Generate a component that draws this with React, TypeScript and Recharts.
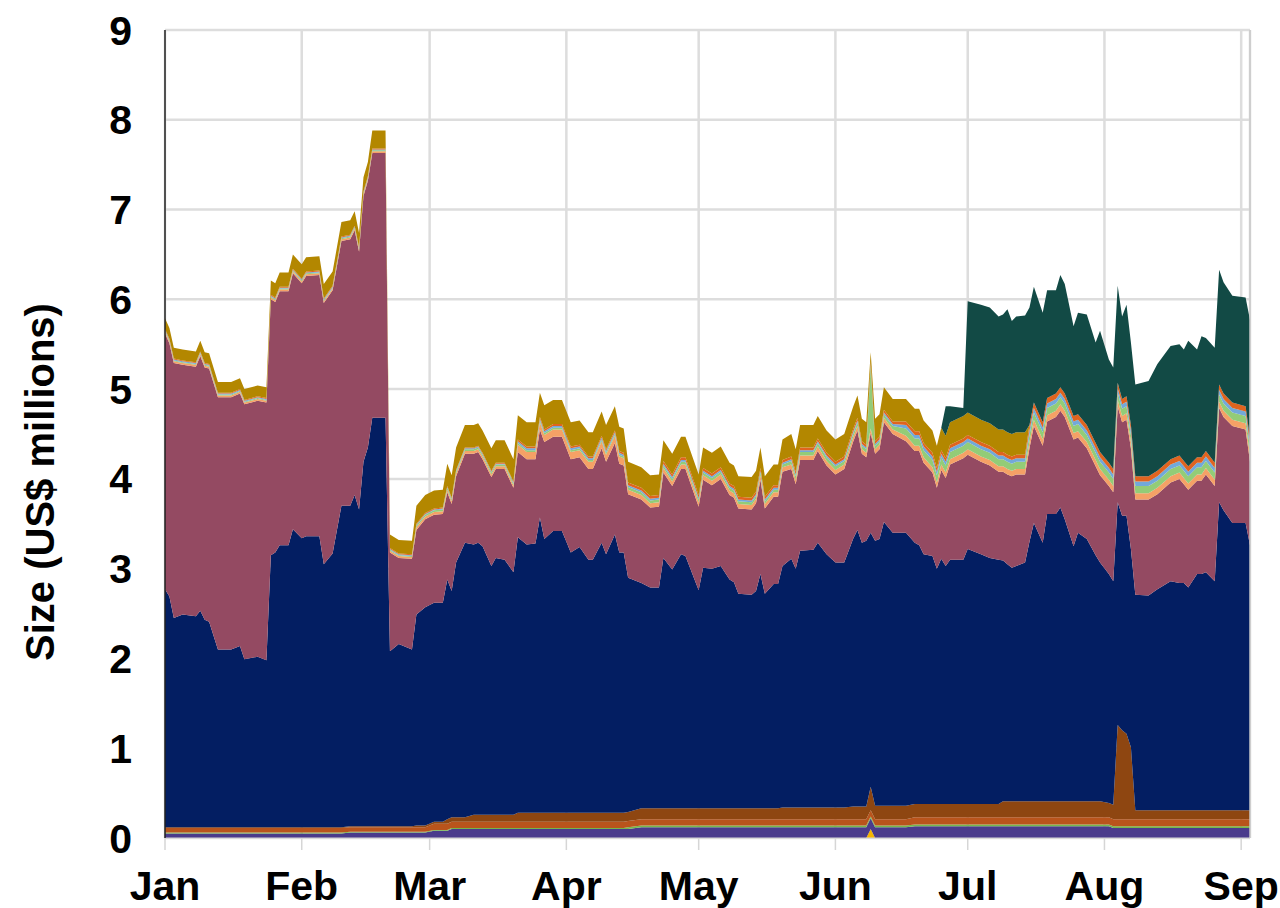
import { Area, AreaChart, CartesianGrid, Label, ReferenceLine, XAxis, YAxis } from 'recharts'

document.body.style.margin = '0'

const font = '"Liberation Sans", Arial, Helvetica, sans-serif'

// day of year (0 = 1 Jan), x axis
const days = [
  0, 1, 2, 4, 7, 8, 9, 10, 12, 15, 17, 18, 21, 23,
  24, 25, 26, 28, 29, 31, 32, 35, 36, 38, 40,
  42, 43, 44, 45, 46, 47, 50,
  51, 53, 56,
  57, 59, 61, 63,
  64, 65, 66, 68, 70, 71, 72, 74, 75, 77, 79,
  80, 82, 84, 85, 86, 88, 90, 92, 94, 96, 97, 99, 100, 102, 103, 104,
  105, 108, 110, 112, 113, 115, 117, 118, 121, 122, 124, 126, 128, 129, 130, 133, 134, 135, 136, 138, 139, 140,
  142, 143, 144, 147, 148, 150, 152, 154, 156, 157, 158, 159, 160, 161, 162, 163, 165,
  168, 170, 171, 172, 174, 175, 176, 177,
  178, 181, 182, 185, 187, 189, 190, 191, 192, 193, 195,
  196, 197, 199, 200, 202, 203, 204, 206, 207, 209, 211, 212, 214, 215,
  216, 217, 218, 219, 220, 223, 225, 228, 230, 231, 232, 234, 235, 236, 238,
  239, 240, 242, 245, 246,
]
const monthTicks = [0, 31, 60, 91, 121, 152, 182, 213, 244]
const monthLabels = ['Jan', 'Feb', 'Mar', 'Apr', 'May', 'Jun', 'Jul', 'Aug', 'Sep']
const yTicks = [0, 1, 2, 3, 4, 5, 6, 7, 8, 9]

// one-day spike at the very bottom
const yellowSpike: Record<number, number> = { 160: 0.1 }

const purple = [
  .05, .05, .05, .05, .05, .05, .05, .05, .05, .05, .05, .05, .05, .05,
  .05, .05, .05, .05, .05, .05, .05, .05, .05, .05, .05,
  .06, .06, .06, .06, .06, .06, .06,
  .06, .06, .06,
  .06, .06, .08, .08,
  .08, .10, .10, .10, .10, .10, .10, .10, .10, .10, .10,
  .10, .10, .10, .10, .10, .10, .10, .10, .10, .10, .10, .10, .10, .10, .10, .10,
  .10, .12, .12, .12, .12, .12, .12, .12, .12, .12, .12, .12, .12, .12, .12, .12, .12, .12, .12, .12, .12, .12,
  .12, .12, .12, .12, .12, .12, .12, .12, .12, .12, .12, .12, .12, .12, .12, .12, .12,
  .12, .13, .13, .13, .13, .13, .13, .13,
  .13, .13, .13, .13, .13, .13, .13, .13, .13, .13, .13,
  .13, .13, .13, .13, .13, .13, .13, .13, .13, .13, .13, .13, .13, .11,
  .11, .11, .11, .11, .11, .11, .11, .11, .11, .11, .11, .11, .11, .11, .11,
  .11, .11, .11, .11, .11,
]
const green = [
  .01, .01, .01, .01, .01, .01, .01, .01, .01, .01, .01, .01, .01, .01,
  .01, .01, .01, .01, .01, .01, .01, .01, .01, .01, .01,
  .01, .01, .01, .01, .01, .01, .01,
  .01, .01, .01,
  .01, .01, .01, .01,
  .01, .01, .01, .01, .01, .01, .01, .01, .01, .01, .01,
  .01, .01, .01, .01, .01, .01, .01, .01, .01, .01, .01, .01, .01, .01, .01, .01,
  .02, .02, .02, .02, .02, .02, .02, .02, .02, .02, .02, .02, .02, .02, .02, .02, .02, .02, .02, .02, .02, .02,
  .02, .02, .02, .02, .02, .02, .02, .02, .02, .02, .02, .02, .02, .02, .02, .02, .02,
  .02, .02, .02, .02, .02, .02, .02, .02,
  .02, .02, .02, .02, .02, .02, .02, .02, .02, .02, .02,
  .02, .02, .02, .02, .02, .02, .02, .02, .02, .02, .02, .02, .02, .02,
  .02, .02, .02, .02, .02, .02, .02, .02, .02, .02, .02, .02, .02, .02, .02,
  .02, .02, .02, .02, .02,
]
const rust = [
  .05, .05, .05, .05, .05, .05, .05, .05, .05, .05, .05, .05, .05, .05,
  .05, .05, .05, .05, .05, .05, .05, .05, .05, .05, .05,
  .05, .05, .05, .05, .05, .05, .05,
  .05, .05, .05,
  .05, .05, .07, .07,
  .07, .07, .07, .07, .07, .07, .07, .07, .07, .07, .07,
  .07, .07, .07, .07, .07, .07, .07, .07, .07, .07, .07, .07, .07, .07, .07, .07,
  .07, .07, .07, .07, .07, .07, .07, .07, .07, .07, .07, .07, .07, .07, .07, .07, .07, .07, .07, .07, .07, .07,
  .07, .07, .07, .07, .07, .07, .07, .07, .07, .07, .07, .07, .07, .07, .07, .07, .07,
  .07, .08, .08, .08, .08, .08, .08, .08,
  .08, .08, .08, .08, .08, .08, .08, .08, .08, .08, .08,
  .08, .08, .08, .08, .08, .08, .08, .08, .08, .08, .08, .08, .08, .08,
  .08, .08, .08, .08, .08, .08, .08, .08, .08, .08, .08, .08, .08, .08, .08,
  .08, .08, .08, .08, .08,
]
const brown = [
  .01, .01, .01, .01, .01, .01, .01, .01, .01, .01, .01, .01, .01, .01,
  .01, .01, .01, .01, .01, .01, .01, .01, .01, .01, .01,
  .01, .01, .01, .01, .01, .01, .01,
  .01, .01, .01,
  .02, .02, .02, .02,
  .05, .05, .05, .05, .08, .08, .08, .08, .08, .08, .08,
  .10, .10, .10, .10, .10, .10, .10, .10, .10, .10, .10, .10, .10, .10, .10, .10,
  .10, .12, .12, .12, .12, .12, .12, .12, .12, .12, .12, .12, .12, .12, .12, .12, .12, .12, .12, .12, .12, .13,
  .13, .13, .13, .13, .13, .13, .13, .13, .14, .14, .14, .14, .26, .15, .15, .15, .15,
  .15, .15, .15, .15, .15, .15, .15, .15,
  .15, .15, .15, .15, .15, .15, .18, .18, .18, .18, .18,
  .18, .18, .18, .18, .18, .18, .18, .18, .18, .18, .18, .18, .16, .16,
  1.05, .99, .95, .80, .10, .10, .10, .10, .10, .10, .10, .10, .10, .10, .10,
  .10, .10, .10, .10, .10,
]
const navy = [
  2.65, 2.57, 2.33, 2.37, 2.35, 2.41, 2.31, 2.29, 1.98, 1.98, 2.02, 1.87, 1.90, 1.86,
  3.03, 3.06, 3.14, 3.14, 3.32, 3.22, 3.24, 3.24, 2.93, 3.05, 3.58,
  3.57, 3.69, 3.53, 4.06, 4.22, 4.55, 4.55,
  1.95, 2.03, 1.97,
  2.35, 2.43, 2.44, 2.44,
  2.67, 2.52, 2.84, 3.06, 3.01, 3.03, 2.99, 2.77, 2.86, 2.84, 2.70,
  3.07, 2.99, 3.00, 3.29, 3.05, 3.14, 3.14, 2.90, 2.96, 2.82, 2.82, 3.01, 2.88, 3.10, 2.90, 2.90,
  2.61, 2.51, 2.46, 2.46, 2.79, 2.66, 2.83, 2.81, 2.43, 2.68, 2.67, 2.70, 2.55, 2.52, 2.39, 2.38, 2.42, 2.61, 2.39, 2.50, 2.50, 2.69,
  2.77, 2.66, 2.86, 2.87, 2.95, 2.82, 2.73, 2.73, 2.98, 3.08, 2.94, 2.96, 2.83, 2.95, 2.97, 3.16, 3.04,
  3.04, 2.91, 2.88, 2.78, 2.76, 2.62, 2.73, 2.65,
  2.72, 2.72, 2.84, 2.78, 2.74, 2.72, 2.68, 2.64, 2.60, 2.62, 2.66,
  2.89, 3.10, 2.88, 3.20, 3.20, 3.27, 3.14, 2.84, 2.99, 2.92, 2.74, 2.66, 2.55, 2.49,
  2.48, 2.39, 2.43, 2.21, 2.40, 2.39, 2.46, 2.55, 2.53, 2.53, 2.48, 2.63, 2.63, 2.65, 2.55,
  3.43, 3.34, 3.20, 3.20, 2.95,
]
const mauve = [
  2.85, 2.82, 2.84, 2.78, 2.78, 2.84, 2.81, 2.82, 2.81, 2.81, 2.81, 2.84, 2.85, 2.87,
  2.85, 2.79, 2.83, 2.83, 2.85, 2.84, 2.90, 2.91, 2.91, 2.93, 2.95,
  2.97, 2.95, 2.87, 2.96, 2.97, 2.95, 2.95,
  1.10, 0.96, 1.01,
  0.94, 0.98, 0.98, 0.99,
  0.97, 0.97, 0.96, 0.99, 1.01, 1.01, 0.97, 0.99, 0.99, 1.01, 0.94,
  0.95, 0.95, 0.94, 0.98, 1.08, 1.05, 1.05, 1.04, 1.00, 1.01, 1.01, 1.05, 1.03, 1.02, 0.99, 0.97,
  0.93, 0.93, 0.89, 0.90, 0.95, 0.93, 0.95, 0.97, 0.93, 0.98, 0.93, 0.97, 0.94, 0.94, 0.95, 0.95, 0.98, 1.05, 0.95, 0.97, 0.97, 1.05,
  1.00, 0.94, 1.01, 1.00, 1.02, 0.99, 0.98, 1.04, 1.08, 1.11, 0.99, 0.93, 1.11, 0.97, 1.00, 1.11, 1.10,
  1.02, 1.02, 1.05, 1.02, 0.93, 0.90, 0.99, 0.98,
  1.06, 1.13, 1.05, 1.03, 1.03, 0.98, 0.99, 1.00, 1.02, 1.02, 0.98,
  1.04, 1.08, 1.08, 1.03, 1.08, 1.08, 1.14, 1.19, 1.06, 1.01, 0.99, 0.97, 0.98, 0.99,
  1.07, 1.04, 1.07, 1.12, 1.06, 1.07, 1.06, 1.10, 1.16, 1.10, 1.09, 1.04, 1.04, 1.09, 1.06,
  1.05, 1.04, 1.08, 1.04, 0.93,
]
const peach = [
  .02, .02, .02, .02, .02, .02, .02, .02, .02, .02, .02, .02, .02, .02,
  .02, .02, .02, .02, .02, .02, .02, .02, .02, .02, .02,
  .02, .02, .02, .02, .02, .02, .02,
  .02, .02, .02,
  .03, .03, .03, .03,
  .03, .03, .03, .03, .03, .03, .03, .03, .03, .03, .03,
  .08, .08, .08, .08, .08, .08, .08, .08, .08, .08, .08, .08, .08, .08, .08, .08,
  .05, .05, .05, .05, .05, .05, .05, .05, .05, .05, .05, .05, .05, .05, .05, .05, .05, .05, .05, .05, .05, .05,
  .05, .05, .05, .05, .05, .05, .05, .05, .05, .05, .05, .05, .05, .05, .05, .05, .05,
  .06, .06, .06, .06, .06, .06, .06, .06,
  .06, .06, .06, .06, .06, .06, .06, .06, .06, .06, .06,
  .07, .07, .07, .07, .07, .07, .07, .07, .07, .07, .07, .07, .07, .07,
  .07, .07, .07, .07, .07, .07, .07, .07, .07, .07, .07, .07, .07, .07, .07,
  .07, .07, .07, .07, .07,
]
const lightGreen = [
  .01, .01, .01, .01, .01, .01, .01, .01, .01, .01, .01, .01, .01, .01,
  .01, .01, .01, .01, .01, .01, .01, .01, .01, .01, .01,
  .01, .01, .01, .01, .01, .01, .01,
  .01, .01, .01,
  .02, .02, .02, .02,
  .02, .02, .02, .02, .02, .02, .02, .02, .02, .02, .02,
  .02, .02, .02, .02, .02, .02, .02, .02, .02, .02, .02, .02, .02, .02, .02, .02,
  .03, .03, .03, .03, .03, .03, .03, .03, .03, .03, .03, .03, .03, .03, .03, .03, .03, .03, .03, .03, .03, .03,
  .04, .04, .04, .04, .04, .04, .04, .04, .04, .04, .04, .04, .70, .04, .04, .04, .04,
  .08, .08, .08, .08, .08, .08, .08, .08,
  .08, .08, .08, .08, .08, .08, .08, .08, .08, .08, .08,
  .08, .08, .08, .08, .08, .08, .08, .08, .08, .08, .08, .08, .08, .08,
  .08, .08, .08, .08, .08, .08, .08, .08, .08, .08, .08, .08, .08, .08, .08,
  .08, .08, .08, .08, .08,
]
const skyBlue = [
  .01, .01, .01, .01, .01, .01, .01, .01, .01, .01, .01, .01, .01, .01,
  .01, .01, .01, .01, .01, .01, .01, .01, .01, .01, .01,
  .01, .01, .01, .01, .01, .01, .01,
  .01, .01, .01,
  .01, .01, .01, .01,
  .01, .01, .01, .01, .01, .01, .01, .01, .01, .01, .01,
  .02, .02, .02, .02, .02, .02, .02, .02, .02, .02, .02, .02, .02, .02, .02, .02,
  .02, .02, .02, .02, .02, .02, .02, .02, .02, .02, .02, .02, .02, .02, .02, .02, .02, .02, .02, .02, .02, .02,
  .02, .02, .02, .02, .02, .02, .02, .02, .02, .02, .02, .02, .02, .02, .02, .02, .02,
  .04, .04, .04, .04, .04, .04, .04, .04,
  .04, .04, .04, .04, .04, .04, .04, .04, .04, .04, .04,
  .05, .05, .05, .05, .05, .05, .05, .05, .05, .05, .05, .05, .05, .05,
  .05, .05, .05, .05, .05, .05, .05, .05, .05, .05, .05, .05, .05, .05, .05,
  .05, .05, .05, .05, .05,
]
const orange = [
  .01, .01, .01, .01, .01, .01, .01, .01, .01, .01, .01, .01, .01, .01,
  .01, .01, .01, .01, .01, .01, .01, .01, .01, .01, .01,
  .01, .01, .01, .01, .01, .01, .01,
  .01, .01, .01,
  .01, .01, .01, .01,
  .01, .01, .01, .01, .01, .01, .01, .01, .01, .01, .01,
  .02, .02, .02, .02, .02, .02, .02, .02, .02, .02, .02, .02, .02, .02, .02, .02,
  .03, .03, .03, .03, .03, .03, .03, .03, .03, .03, .03, .03, .03, .03, .03, .03, .03, .03, .03, .03, .03, .03,
  .03, .03, .03, .03, .03, .03, .03, .03, .03, .03, .03, .03, .03, .03, .03, .03, .03,
  .04, .04, .04, .04, .04, .04, .04, .04,
  .04, .04, .04, .04, .04, .04, .04, .04, .04, .04, .04,
  .06, .06, .06, .06, .06, .06, .06, .06, .06, .06, .06, .06, .06, .06,
  .06, .06, .06, .06, .06, .06, .06, .06, .06, .06, .06, .06, .06, .06, .06,
  .06, .06, .06, .06, .06,
]
const gold = [
  .12, .12, .12, .12, .12, .12, .12, .12, .12, .12, .12, .12, .12, .12,
  .16, .16, .16, .16, .16, .16, .16, .16, .16, .16, .16,
  .16, .16, .16, .16, .16, .20, .20,
  .15, .15, .15,
  .20, .20, .20, .20,
  .25, .25, .25, .25, .25, .25, .25, .25, .25, .25, .25,
  .27, .27, .27, .27, .27, .27, .27, .27, .27, .27, .27, .27, .27, .27, .27, .27,
  .23, .23, .23, .23, .23, .23, .23, .23, .23, .23, .23, .23, .23, .23, .23, .23, .23, .23, .23, .23, .23, .23,
  .25, .25, .25, .25, .25, .25, .25, .25, .25, .25, .25, .25, .10, .25, .25, .25, .25,
  .25, .25, .25, .25, .25, .25, .25, .25,
  .25, .25, .25, .25, .25, .25, .25, .25, .25, .25, .25,
  0, 0, 0, 0, 0, 0, 0, 0, 0, 0, 0, 0, 0, 0,
  0, 0, 0, 0, 0, 0, 0, 0, 0, 0, 0, 0, 0, 0, 0,
  0, 0, 0, 0, 0,
]
const teal = [
  0, 0, 0, 0, 0, 0, 0, 0, 0, 0, 0, 0, 0, 0,
  0, 0, 0, 0, 0, 0, 0, 0, 0, 0, 0,
  0, 0, 0, 0, 0, 0, 0,
  0, 0, 0,
  0, 0, 0, 0,
  0, 0, 0, 0, 0, 0, 0, 0, 0, 0, 0,
  0, 0, 0, 0, 0, 0, 0, 0, 0, 0, 0, 0, 0, 0, 0, 0,
  0, 0, 0, 0, 0, 0, 0, 0, 0, 0, 0, 0, 0, 0, 0, 0, 0, 0, 0, 0, 0, 0,
  0, 0, 0, 0, 0, 0, 0, 0, 0, 0, 0, 0, 0, 0, 0, 0, 0,
  0, 0, 0, 0, 0, 0, 0, .33,
  .18, .09, 1.24, 1.28, 1.29, 1.26, 1.28, 1.37, 1.26, 1.29, 1.30,
  1.31, 1.29, 1.22, 1.20, 1.15, 1.25, 1.22, 1.00, 1.13, 1.23, 1.12, 1.35, 1.15, 1.13,
  1.08, .92, 1.02, .92, 1.02, 1.06, 1.19, 1.26, 1.24, 1.24, 1.40, 1.20, 1.35, 1.26, 1.28,
  1.28, 1.24, 1.19, 1.21, 1.32,
]

const layers = [
  { key: 'yellow', color: '#f6b400' },
  { key: 'purple', color: '#4a3b8c' },
  { key: 'green', color: '#74b84c' },
  { key: 'rust', color: '#b9541c' },
  { key: 'brown', color: '#8e4611' },
  { key: 'navy', color: '#031e62' },
  { key: 'mauve', color: '#944a62' },
  { key: 'peach', color: '#f5a166' },
  { key: 'lightGreen', color: '#93cc77' },
  { key: 'skyBlue', color: '#72a9d9' },
  { key: 'orange', color: '#e0641f' },
  { key: 'gold', color: '#b38700' },
  { key: 'teal', color: '#124a45' },
]

const data = days.map((day, i) => ({
  day,
  yellow: yellowSpike[day] ?? 0,
  purple: purple[i] ?? 0,
  green: green[i] ?? 0,
  rust: rust[i] ?? 0,
  brown: brown[i] ?? 0,
  navy: navy[i] ?? 0,
  mauve: mauve[i] ?? 0,
  peach: peach[i] ?? 0,
  lightGreen: lightGreen[i] ?? 0,
  skyBlue: skyBlue[i] ?? 0,
  orange: orange[i] ?? 0,
  gold: gold[i] ?? 0,
  teal: teal[i] ?? 0,
}))

const tickStyle = { fontSize: 41, fontWeight: 700, fill: '#000', fontFamily: font }

function YTitle() {
  return (
    <text x={40} y={482} transform="rotate(-90 40 482)" textAnchor="middle" dominantBaseline="central"
      style={{ fontSize: 40, fontWeight: 700, fontFamily: font, fill: '#000' }}>
      Size (US$ millions)
    </text>
  )
}

export default function App() {
  return (
    <div style={{ width: 1280, height: 908, background: '#fff' }}>
      <AreaChart width={1280} height={908} data={data} margin={{ top: 30, right: 30, bottom: 0, left: 0 }}>
        <CartesianGrid stroke="#dddddd" strokeWidth={2.5} />
        <XAxis dataKey="day" type="number" domain={[0, 246]} ticks={monthTicks} interval={0}
          tickFormatter={(v: number) => monthLabels[monthTicks.indexOf(v)]}
          height={70} tick={tickStyle} tickSize={12} tickMargin={21}
          tickLine={{ stroke: '#d6d6d6', strokeWidth: 1.5 }} axisLine={{ stroke: '#d6d6d6' }} />
        <YAxis type="number" domain={[0, 9]} ticks={yTicks} interval={0} width={165}
          tick={tickStyle} tickLine={false} tickSize={0} tickMargin={33}
          axisLine={{ stroke: '#222', strokeWidth: 1.5 }}>
          <Label content={<YTitle />} />
        </YAxis>
        {layers.map((l) => (
          <Area key={l.key} type="linear" dataKey={l.key} stackId="1" fill={l.color} fillOpacity={1}
            stroke="none" isAnimationActive={false} />
        ))}
        <ReferenceLine x={246} stroke="#c8c8c8" strokeWidth={1.5} />
      </AreaChart>
    </div>
  )
}
